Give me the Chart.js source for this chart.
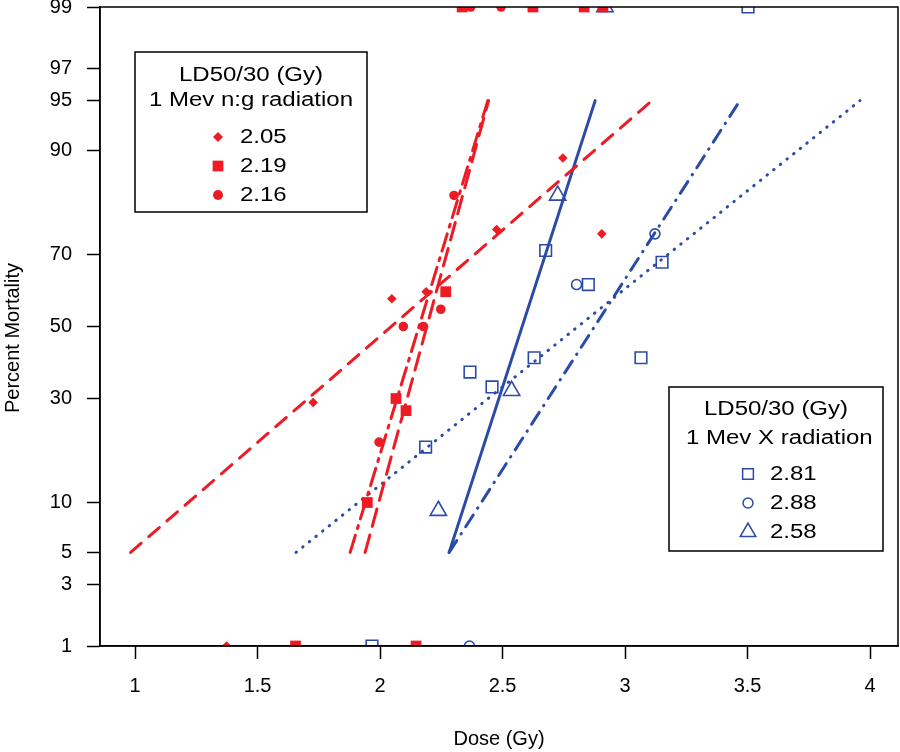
<!DOCTYPE html>
<html lang="en">
<head>
<meta charset="UTF-8">
<title>Percent Mortality vs Dose</title>
<style>
  body{margin:0;background:#fff}
  canvas{display:block}
</style>
<script src="https://cdn.jsdelivr.net/npm/chart.js"></script>
</head>
<body>
<canvas id="probitChart" width="900" height="752"></canvas>
<script>
const RED = '#ed1c24', BLUE = '#2b4ba6';

// 1 Mev n:g radiation, observed (dose Gy, percent mortality)
const ngDiamondDose = [1.374, 1.727, 2.048, 2.188, 2.476, 2.746, 2.905];
const ngDiamondPct  = [1, 29, 58, 60, 76, 89, 75];
const ngSquareDose  = [1.655, 2.147, 1.948, 2.065, 2.106, 2.268, 2.335, 2.624, 2.833, 2.91];
const ngSquarePct   = [1, 1, 10, 30, 27, 60, 99, 99, 99, 99];
const ngCircleDose  = [1.996, 2.095, 2.177, 2.248, 2.302, 2.37, 2.494];
const ngCirclePct   = [20, 50, 50, 55, 83, 99, 99];

// 1 Mev X radiation
const xSquareDose = [1.967, 2.186, 2.367, 2.457, 2.629, 2.676, 2.85, 3.065, 3.151, 3.502];
const xSquarePct  = [1, 19, 37, 33, 41, 71, 62, 41, 68, 99];
const xCircleDose = [2.365, 2.802, 3.122];
const xCirclePct  = [1, 62, 75];
const xTriDose    = [2.238, 2.537, 2.725, 2.918];
const xTriPct     = [9, 32, 83, 99];

// fitted probit lines, dose at 5% and 95%
const fitPct = [5, 95];
const ngDiamondFit = [0.982, 3.11];
const ngSquareFit  = [1.939, 2.443];
const ngCircleFit  = [1.878, 2.44];
const xSquareFit   = [1.657, 3.959];
const xCircleFit   = [2.282, 3.469];
const xTriFit      = [2.282, 2.878];

const xTicks = [1, 1.5, 2, 2.5, 3, 3.5, 4];
const yTicks = [1, 3, 5, 10, 30, 50, 70, 90, 95, 97, 99];

const xAxisTitle = 'Dose (Gy)';
const yAxisTitle = 'Percent Mortality';
const ngLegendTitle  = ['LD50/30 (Gy)', '1 Mev n:g radiation'];
const ngLegendLabels = ['2.05', '2.19', '2.16'];
const xLegendTitle   = ['LD50/30 (Gy)', ' 1 Mev X radiation'];
const xLegendLabels  = ['2.81', '2.88', '2.58'];

// inverse normal cdf (Acklam)
function probit(p){
  const a=[-3.969683028665376e+01,2.209460984245205e+02,-2.759285104469687e+02,1.383577518672690e+02,-3.066479806614716e+01,2.506628277459239e+00];
  const b=[-5.447609879822406e+01,1.615858368580409e+02,-1.556989798598866e+02,6.680131188771972e+01,-1.328068155288572e+01];
  const c=[-7.784894002430293e-03,-3.223964580411365e-01,-2.400758277161838e+00,-2.549671010331545e+00,4.374664141464968e+00,2.938163982698783e+00];
  const d=[7.784695709041462e-03,3.224671290700398e-01,2.445134137142996e+00,3.754408661907416e+00];
  const pl=0.02425;
  let q,r;
  if(p<pl){q=Math.sqrt(-2*Math.log(p));return (((((c[0]*q+c[1])*q+c[2])*q+c[3])*q+c[4])*q+c[5])/((((d[0]*q+d[1])*q+d[2])*q+d[3])*q+1);}
  if(p>1-pl){q=Math.sqrt(-2*Math.log(1-p));return -(((((c[0]*q+c[1])*q+c[2])*q+c[3])*q+c[4])*q+c[5])/((((d[0]*q+d[1])*q+d[2])*q+d[3])*q+1);}
  q=p-0.5;r=q*q;
  return (((((a[0]*r+a[1])*r+a[2])*r+a[3])*r+a[4])*r+a[5])*q/(((((b[0]*r+b[1])*r+b[2])*r+b[3])*r+b[4])*r+1);
}

const pts = (dose, pct) => dose.map((x,i) => ({x, y: probit(pct[i]/100)}));

function pointSet(dose, pct, style, radius, color, filled){
  return {type:'scatter', data: pts(dose,pct), pointStyle: style, pointRadius: radius, pointHoverRadius: radius,
    backgroundColor: filled ? color : 'rgba(0,0,0,0)', borderColor: color,
    borderWidth: filled ? 0 : 1.6, clip: 0, order: 1};
}
function fitSet(ends, color, dash){
  return {type:'line', data: pts(ends, fitPct), borderColor: color, borderWidth: 3, borderDash: dash,
    borderCapStyle:'round', pointRadius: 0, fill: false, clip: 0, order: 2};
}

const datasets = [
  pointSet(ngDiamondDose, ngDiamondPct, 'rectRot', 4.8, RED, true),
  pointSet(ngSquareDose,  ngSquarePct,  'rect',    7.6, RED, true),
  pointSet(ngCircleDose,  ngCirclePct,  'circle',  4.8, RED, true),
  pointSet(xSquareDose,   xSquarePct,   'rect',    8.2, BLUE, false),
  pointSet(xCircleDose,   xCirclePct,   'circle',  5.0, BLUE, false),
  pointSet(xTriDose,      xTriPct,      'triangle',9.4, BLUE, false),
  fitSet(ngDiamondFit, RED, [14, 10]),
  fitSet(ngSquareFit,  RED, [18, 9]),
  fitSet(ngCircleFit,  RED, [18, 7, 3, 7]),
  fitSet(xSquareFit,   BLUE, [0.5, 8]),
  fitSet(xCircleFit,   BLUE, [14, 8, 0.5, 8]),
  fitSet(xTriFit,      BLUE, [])
];

// legend boxes drawn by hand (two separate keys)
const legends = [
  {box:[135,52,232,160], cx:251, titleY:[75,100], rowY:[137,166,195], symX:218, textX:240,
   title: ngLegendTitle, labels: ngLegendLabels, color: RED, filled: true,
   styles:[['rectRot',5],['rect',7.6],['circle',5]]},
  {box:[669,387,214,164], cx:776, titleY:[409,438], rowY:[474,503,532], symX:748, textX:770,
   title: xLegendTitle, labels: xLegendLabels, color: BLUE, filled: false,
   styles:[['rect',7.6],['circle',5],['triangle',9]]}
];

function stretchText(ctx, txt, x, y, align){
  const sx = 1.2;
  ctx.save();
  ctx.translate(x, y);
  ctx.scale(sx, 1);
  ctx.textAlign = align;
  ctx.fillText(txt, 0, 0);
  ctx.restore();
}

const frameAndKeys = {
  id: 'frameAndKeys',
  afterDatasetsDraw(chart){
    const {ctx, chartArea:a} = chart;
    ctx.save();
    ctx.strokeStyle = '#000';
    ctx.lineWidth = 1.5;
    ctx.strokeRect(a.left, a.top, a.right - a.left, a.bottom - a.top);
    ctx.restore();
  },
  afterDraw(chart){
    const ctx = chart.ctx;
    // y axis title, a little below the plot centre as in the original
    ctx.save();
    ctx.fillStyle = '#000';
    ctx.font = '20px "Liberation Sans", Arial, sans-serif';
    ctx.textAlign = 'center';
    ctx.textBaseline = 'middle';
    ctx.translate(13, 338);
    ctx.rotate(-Math.PI / 2);
    ctx.fillText(yAxisTitle, 0, 0);
    ctx.restore();

    legends.forEach(lg => {
      ctx.save();
      ctx.fillStyle = '#fff';
      ctx.fillRect(...lg.box);
      ctx.strokeStyle = '#000';
      ctx.lineWidth = 1.5;
      ctx.strokeRect(...lg.box);
      ctx.fillStyle = '#000';
      ctx.font = '20px "Liberation Sans", Arial, sans-serif';
      ctx.textBaseline = 'middle';
      lg.title.forEach((t,i) => stretchText(ctx, t, lg.cx, lg.titleY[i], 'center'));
      lg.labels.forEach((t,i) => stretchText(ctx, t, lg.textX, lg.rowY[i], 'left'));
      lg.styles.forEach(([style, r], i) => {
        ctx.fillStyle = lg.filled ? lg.color : 'rgba(0,0,0,0)';
        ctx.strokeStyle = lg.color;
        Chart.helpers.drawPoint(ctx, {pointStyle: style, radius: r, rotation: 0, borderWidth: lg.filled ? 0 : 1.6},
          lg.symX, lg.rowY[i]);
      });
      ctx.restore();
    });
  }
};

const tickFont = {family: '"Liberation Sans", Arial, sans-serif', size: 20};
const titleFont = {family: '"Liberation Sans", Arial, sans-serif', size: 20};

new Chart(document.getElementById('probitChart'), {
  type: 'scatter',
  data: { datasets },
  plugins: [frameAndKeys],
  options: {
    responsive: false,
    animation: false,
    devicePixelRatio: 1,
    layout: { autoPadding: false, padding: {left: 0, right: 2, top: 7, bottom: 0} },
    plugins: { legend: {display: false}, tooltip: {enabled: false} },
    scales: {
      x: {
        type: 'linear', min: 0.857, max: 4.114,
        afterBuildTicks: ax => { ax.ticks = xTicks.map(v => ({value: v})); },
        afterFit: ax => { ax.height = 106; ax.paddingLeft = 0; ax.paddingRight = 0; },
        grid: { drawOnChartArea: false, tickLength: 13, tickColor: '#000', tickWidth: 1.5 },
        border: { color: '#000', width: 1.5 },
        ticks: { autoSkip: false, maxRotation: 0, padding: 15, color: '#000', font: tickFont,
                 callback: v => String(v) },
        title: { display: true, text: xAxisTitle, color: '#000', font: titleFont, padding: {top: 0, bottom: 1} }
      },
      y: {
        type: 'linear', min: probit(0.01), max: probit(0.99),
        afterBuildTicks: ax => { ax.ticks = yTicks.map(p => ({value: probit(p/100)})); },
        afterFit: ax => { ax.width = 100; ax.paddingTop = 0; ax.paddingBottom = 0; },
        grid: { drawOnChartArea: false, tickLength: 13, tickColor: '#000', tickWidth: 1.5 },
        border: { color: '#000', width: 1.5 },
        ticks: { autoSkip: false, padding: 15, color: '#000', font: tickFont,
                 callback: (v, i) => String(yTicks[i]) },
        title: { display: false }
      }
    }
  }
});
</script>
</body>
</html>
